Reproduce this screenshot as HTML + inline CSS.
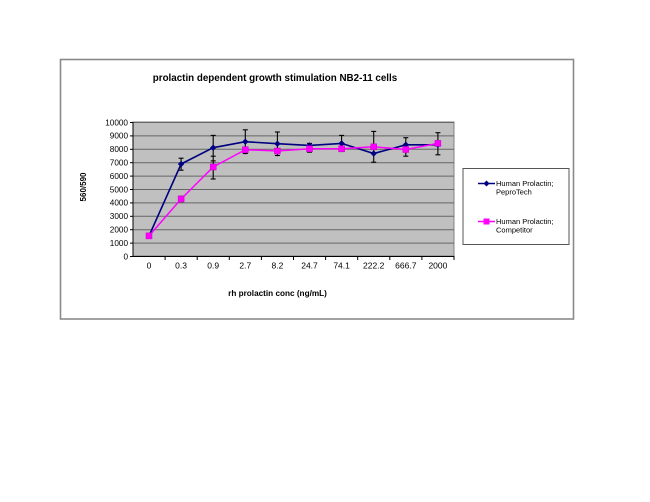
<!DOCTYPE html>
<html><head><meta charset="utf-8"><style>
html,body{margin:0;padding:0;background:#fff;}
svg{display:block;}
text{font-family:"Liberation Sans",Arial,sans-serif;}
</style></head><body>
<svg width="650" height="502" viewBox="0 0 650 502" xmlns="http://www.w3.org/2000/svg">
<rect x="0" y="0" width="650" height="502" fill="#fff"/>
<rect x="60.5" y="59.5" width="513" height="259.5" fill="#fff" stroke="#8a8a8a" stroke-width="1.6"/>
<text x="275" y="81" font-size="9.8" font-weight="bold" text-anchor="middle" fill="#000">prolactin dependent growth stimulation NB2-11 cells</text>
<!-- plot area -->
<rect x="133" y="122" width="321" height="134" fill="#c0c0c0" stroke="#808080" stroke-width="1"/>
<g stroke="#666" stroke-width="1">
<line x1="133" y1="122.5" x2="454" y2="122.5"/>
<line x1="133" y1="135.9" x2="454" y2="135.9"/>
<line x1="133" y1="149.3" x2="454" y2="149.3"/>
<line x1="133" y1="162.7" x2="454" y2="162.7"/>
<line x1="133" y1="176.1" x2="454" y2="176.1"/>
<line x1="133" y1="189.5" x2="454" y2="189.5"/>
<line x1="133" y1="202.9" x2="454" y2="202.9"/>
<line x1="133" y1="216.3" x2="454" y2="216.3"/>
<line x1="133" y1="229.7" x2="454" y2="229.7"/>
<line x1="133" y1="243.1" x2="454" y2="243.1"/>
</g>
<!-- axes -->
<g stroke="#000" stroke-width="1">
<line x1="133" y1="122" x2="133" y2="256.5"/>
<line x1="133" y1="256.5" x2="454" y2="256.5"/>
<line x1="130" y1="122.5" x2="133" y2="122.5"/>
<line x1="130" y1="135.9" x2="133" y2="135.9"/>
<line x1="130" y1="149.3" x2="133" y2="149.3"/>
<line x1="130" y1="162.7" x2="133" y2="162.7"/>
<line x1="130" y1="176.1" x2="133" y2="176.1"/>
<line x1="130" y1="189.5" x2="133" y2="189.5"/>
<line x1="130" y1="202.9" x2="133" y2="202.9"/>
<line x1="130" y1="216.3" x2="133" y2="216.3"/>
<line x1="130" y1="229.7" x2="133" y2="229.7"/>
<line x1="130" y1="243.1" x2="133" y2="243.1"/>
<line x1="130" y1="256.5" x2="133" y2="256.5"/>
<line x1="165.1" y1="256" x2="165.1" y2="260"/>
<line x1="197.2" y1="256" x2="197.2" y2="260"/>
<line x1="229.3" y1="256" x2="229.3" y2="260"/>
<line x1="261.4" y1="256" x2="261.4" y2="260"/>
<line x1="293.5" y1="256" x2="293.5" y2="260"/>
<line x1="325.6" y1="256" x2="325.6" y2="260"/>
<line x1="357.7" y1="256" x2="357.7" y2="260"/>
<line x1="389.8" y1="256" x2="389.8" y2="260"/>
<line x1="421.9" y1="256" x2="421.9" y2="260"/>
<line x1="454" y1="256" x2="454" y2="260"/>
</g>
<!-- y labels -->
<g font-size="8.2" text-anchor="end" fill="#000">
<text x="128" y="125.3">10000</text>
<text x="128" y="138.7">9000</text>
<text x="128" y="152.1">8000</text>
<text x="128" y="165.5">7000</text>
<text x="128" y="178.9">6000</text>
<text x="128" y="192.3">5000</text>
<text x="128" y="205.7">4000</text>
<text x="128" y="219.1">3000</text>
<text x="128" y="232.5">2000</text>
<text x="128" y="245.9">1000</text>
<text x="128" y="259.3">0</text>
</g>
<!-- x labels -->
<g font-size="8.5" text-anchor="middle" fill="#000">
<text x="149" y="268.5">0</text>
<text x="181.1" y="268.5">0.3</text>
<text x="213.2" y="268.5">0.9</text>
<text x="245.3" y="268.5">2.7</text>
<text x="277.4" y="268.5">8.2</text>
<text x="309.5" y="268.5">24.7</text>
<text x="341.6" y="268.5">74.1</text>
<text x="373.7" y="268.5">222.2</text>
<text x="405.8" y="268.5">666.7</text>
<text x="437.9" y="268.5">2000</text>
</g>
<text x="277.5" y="296" font-size="8.2" font-weight="bold" text-anchor="middle" fill="#000">rh prolactin conc (ng/mL)</text>
<text transform="translate(86,187) rotate(-90)" font-size="8" font-weight="bold" text-anchor="middle" fill="#000">560/590</text>
<!-- blue line -->
<polyline fill="none" stroke="#000080" stroke-width="1.6" points="149,235.9 181.1,164 213.2,147.7 245.3,141.7 277.4,143.7 309.5,145.4 341.6,143.4 373.7,153.5 405.8,144.8 437.9,144.8"/>
<!-- error bars -->
<g stroke="#000" stroke-width="1.1">
<line x1="181.1" y1="158.2" x2="181.1" y2="170.2"/><line x1="178.6" y1="158.2" x2="183.6" y2="158.2"/><line x1="178.6" y1="170.2" x2="183.6" y2="170.2"/>
<line x1="181.1" y1="196.3" x2="181.1" y2="201.7"/><line x1="178.6" y1="196.3" x2="183.6" y2="196.3"/><line x1="178.6" y1="201.7" x2="183.6" y2="201.7"/>
<line x1="213.2" y1="135.4" x2="213.2" y2="179"/><line x1="210.7" y1="135.4" x2="215.7" y2="135.4"/><line x1="210.7" y1="160.9" x2="215.7" y2="160.9"/><line x1="210.7" y1="156.2" x2="215.7" y2="156.2"/><line x1="210.7" y1="179" x2="215.7" y2="179"/>
<line x1="245.3" y1="129.8" x2="245.3" y2="154.2"/><line x1="242.8" y1="129.8" x2="247.8" y2="129.8"/><line x1="242.8" y1="153.5" x2="247.8" y2="153.5"/>
<line x1="277.4" y1="132" x2="277.4" y2="156.2"/><line x1="274.9" y1="132" x2="279.9" y2="132"/><line x1="274.9" y1="155.5" x2="279.9" y2="155.5"/>
<line x1="309.5" y1="143.4" x2="309.5" y2="152.2"/><line x1="307" y1="143.4" x2="312" y2="143.4"/><line x1="307" y1="152.2" x2="312" y2="152.2"/>
<line x1="341.6" y1="135.4" x2="341.6" y2="151.5"/><line x1="339.1" y1="135.4" x2="344.1" y2="135.4"/><line x1="339.1" y1="151.5" x2="344.1" y2="151.5"/>
<line x1="373.7" y1="131.4" x2="373.7" y2="162.2"/><line x1="371.2" y1="131.4" x2="376.2" y2="131.4"/><line x1="371.2" y1="162.2" x2="376.2" y2="162.2"/>
<line x1="405.8" y1="137.7" x2="405.8" y2="156.2"/><line x1="403.3" y1="137.7" x2="408.3" y2="137.7"/><line x1="403.3" y1="156.2" x2="408.3" y2="156.2"/>
<line x1="437.9" y1="132.7" x2="437.9" y2="154.8"/><line x1="435.4" y1="132.7" x2="440.4" y2="132.7"/><line x1="435.4" y1="154.8" x2="440.4" y2="154.8"/>
</g>
<!-- blue markers -->
<g fill="#000080">
<polygon points="181.1,160.8 184.3,164 181.1,167.2 177.9,164"/>
<polygon points="213.2,144.5 216.4,147.7 213.2,150.9 210,147.7"/>
<polygon points="245.3,138.5 248.5,141.7 245.3,144.9 242.1,141.7"/>
<polygon points="277.4,140.5 280.6,143.7 277.4,146.9 274.2,143.7"/>
<polygon points="309.5,142.2 312.7,145.4 309.5,148.6 306.3,145.4"/>
<polygon points="341.6,140.2 344.8,143.4 341.6,146.6 338.4,143.4"/>
<polygon points="373.7,150.3 376.9,153.5 373.7,156.7 370.5,153.5"/>
<polygon points="405.8,141.6 409,144.8 405.8,148 402.6,144.8"/>
<polygon points="437.9,141.6 441.1,144.8 437.9,148 434.7,144.8"/>
</g>
<!-- pink line -->
<polyline fill="none" stroke="#ff00ff" stroke-width="1.5" points="149,235.9 181.1,199 213.2,167 245.3,149.7 277.4,151 309.5,148.8 341.6,148.8 373.7,146.8 405.8,149.5 437.9,143.4"/>
<!-- pink markers -->
<g fill="#ff00ff" stroke="#cc00cc" stroke-width="0.5">
<rect x="146" y="232.9" width="6" height="6"/>
<rect x="178.1" y="196" width="6" height="6"/>
<rect x="210.2" y="164" width="6" height="6"/>
<rect x="242.3" y="146.7" width="6" height="6"/>
<rect x="274.4" y="148" width="6" height="6"/>
<rect x="306.5" y="145.8" width="6" height="6"/>
<rect x="338.6" y="145.8" width="6" height="6"/>
<rect x="370.7" y="143.8" width="6" height="6"/>
<rect x="402.8" y="146.5" width="6" height="6"/>
<rect x="434.9" y="140.4" width="6" height="6"/>
</g>
<!-- legend -->
<rect x="463" y="168.5" width="106" height="76" fill="#fff" stroke="#555" stroke-width="1"/>
<line x1="478" y1="183.5" x2="495" y2="183.5" stroke="#000080" stroke-width="1.6"/>
<polygon points="486.5,180.5 489.5,183.5 486.5,186.5 483.5,183.5" fill="#000080"/>
<text x="496" y="186" font-size="7.5" fill="#000">Human Prolactin;</text>
<text x="496" y="194.5" font-size="7.5" fill="#000">PeproTech</text>
<line x1="478" y1="221.5" x2="495" y2="221.5" stroke="#ff00ff" stroke-width="1.5"/>
<rect x="483.5" y="218.5" width="6" height="6" fill="#ff00ff"/>
<text x="496" y="224" font-size="7.5" fill="#000">Human Prolactin;</text>
<text x="496" y="232.5" font-size="7.5" fill="#000">Competitor</text>
</svg>
</body></html>
